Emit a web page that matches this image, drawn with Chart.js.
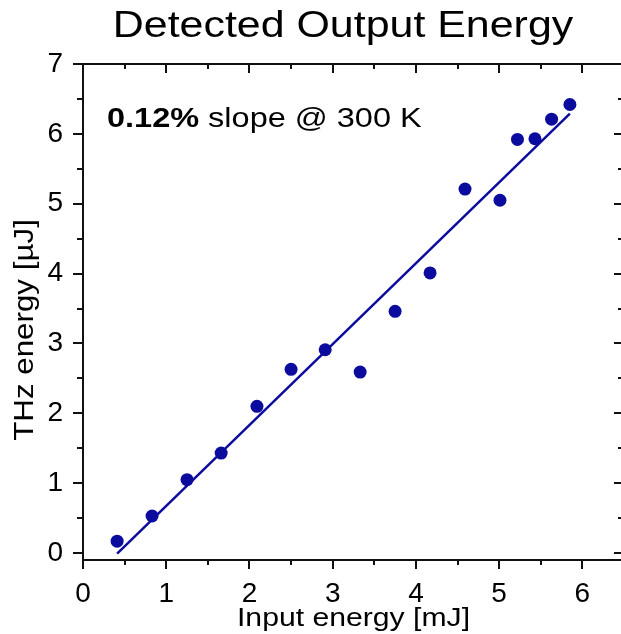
<!DOCTYPE html>
<html>
<head>
<meta charset="utf-8">
<script src="https://cdn.jsdelivr.net/npm/chart.js@4/dist/chart.umd.min.js"></script>
<style>
  html, body { margin: 0; padding: 0; background: #fff; overflow: hidden; }
  #wrap { width: 640px; height: 634px; }
</style>
</head>
<body>
<div id="wrap"><canvas id="c" width="640" height="634" style="width:640px;height:634px"></canvas></div>
<script>
// Measured THz output versus pump input
const inputEnergy = [0.41, 0.83, 1.25, 1.66, 2.09, 2.50, 2.91, 3.33, 3.75, 4.17, 4.59, 5.01, 5.22, 5.43, 5.63, 5.85];
const thzEnergy   = [0.17, 0.53, 1.05, 1.43, 2.10, 2.63, 2.91, 2.59, 3.46, 4.01, 5.21, 5.05, 5.92, 5.93, 6.21, 6.42];

// Linear fit end points
const fitX = [0.41, 5.85];
const fitY = [-0.01, 6.29];

const xTicks = [0, 1, 2, 3, 4, 5, 6];
const yTicks = [0, 1, 2, 3, 4, 5, 6, 7];

const titleText = 'Detected Output Energy';
const slopeBold = '0.12%';
const slopeRest = ' slope @ 300 K';
const xTitle = 'Input energy [mJ]';
const yTitle = 'THz energy [µJ]';

const FONT = '"Liberation Sans", Arial, sans-serif';
const BLUE = '#0b0b9e';

// Draws the framed box with tick marks on all four sides
const frameTicks = {
  id: 'frameTicks',
  afterDraw(chart) {
    const { ctx, chartArea: a, scales: { x, y } } = chart;
    ctx.save();
    ctx.strokeStyle = '#111';
    ctx.lineWidth = 2;
    ctx.strokeRect(a.left, a.top, a.right - a.left, a.bottom - a.top);
    ctx.beginPath();
    for (let v = 0; v <= 6.5 + 1e-9; v += 0.5) {
      const px = Math.round(x.getPixelForValue(v));
      const len = Number.isInteger(v) ? 9 : 5;
      ctx.moveTo(px, a.bottom); ctx.lineTo(px, a.bottom + len);
      ctx.moveTo(px, a.top); ctx.lineTo(px, a.top + len);
    }
    for (let v = 0; v <= 7 + 1e-9; v += 0.5) {
      const py = Math.round(y.getPixelForValue(v));
      const len = Number.isInteger(v) ? 10 : 6;
      ctx.moveTo(a.left, py); ctx.lineTo(a.left - len, py);
      ctx.moveTo(a.right, py); ctx.lineTo(a.right - len, py);
    }
    ctx.stroke();
    ctx.restore();
  }
};

// Draws text stretched horizontally like the rest of the lettering
function wideText(ctx, text, x, y, font, sx, align) {
  ctx.save();
  ctx.font = font;
  const w = ctx.measureText(text).width * sx;
  let left = x;
  if (align === 'center') left = x - w / 2;
  ctx.translate(left, y);
  ctx.scale(sx, 1);
  ctx.textAlign = 'left';
  ctx.fillText(text, 0, 0);
  ctx.restore();
  return w;
}

// Heading, slope annotation and axis titles
const textLayer = {
  id: 'textLayer',
  afterDraw(chart) {
    const { ctx } = chart;
    ctx.save();
    ctx.fillStyle = '#000';
    ctx.textBaseline = 'alphabetic';
    wideText(ctx, titleText, 343, 37, '37px ' + FONT, 1.16, 'center');
    const w = wideText(ctx, slopeBold, 107, 127, 'bold 28px ' + FONT, 1.16, 'left');
    wideText(ctx, slopeRest, 107 + w, 127, '28px ' + FONT, 1.16, 'left');
    wideText(ctx, xTitle, 353.5, 626, '26px ' + FONT, 1.16, 'center');
    ctx.save();
    ctx.translate(33, 330);
    ctx.rotate(-Math.PI / 2);
    wideText(ctx, yTitle, 0, 0, '27px ' + FONT, 1.16, 'center');
    ctx.restore();
    ctx.restore();
  }
};

new Chart(document.getElementById('c'), {
  type: 'scatter',
  data: {
    datasets: [
      {
        type: 'line',
        label: 'fit',
        data: fitX.map((v, i) => ({ x: v, y: fitY[i] })),
        borderColor: BLUE,
        borderWidth: 2.5,
        pointRadius: 0,
        fill: false
      },
      {
        label: 'data',
        data: inputEnergy.map((v, i) => ({ x: v, y: thzEnergy[i] })),
        backgroundColor: BLUE,
        borderColor: BLUE,
        pointRadius: 6.5,
        borderWidth: 0
      }
    ]
  },
  options: {
    responsive: false,
    animation: false,
    devicePixelRatio: 1,
    layout: { padding: { top: 64, right: 16, left: 0, bottom: 0 } },
    plugins: { legend: { display: false }, tooltip: { enabled: false }, title: { display: false } },
    scales: {
      x: {
        type: 'linear',
        min: 0, max: 6.5,
        afterFit(s) { s.height = 74; },
        afterBuildTicks(s) { s.ticks = xTicks.map(v => ({ value: v })); },
        grid: { display: false, drawTicks: false },
        border: { display: false },
        ticks: { padding: 17, color: '#000', font: { family: FONT, size: 28 }, maxRotation: 0 },
        title: { display: false }
      },
      y: {
        type: 'linear',
        min: -0.1, max: 7,
        afterFit(s) { s.width = 83; },
        afterBuildTicks(s) { s.ticks = yTicks.map(v => ({ value: v })); },
        grid: { display: false, drawTicks: false },
        border: { display: false },
        ticks: { padding: 20, color: '#000', font: { family: FONT, size: 28 } },
        title: { display: false }
      }
    }
  },
  plugins: [frameTicks, textLayer]
});
</script>
</body>
</html>
